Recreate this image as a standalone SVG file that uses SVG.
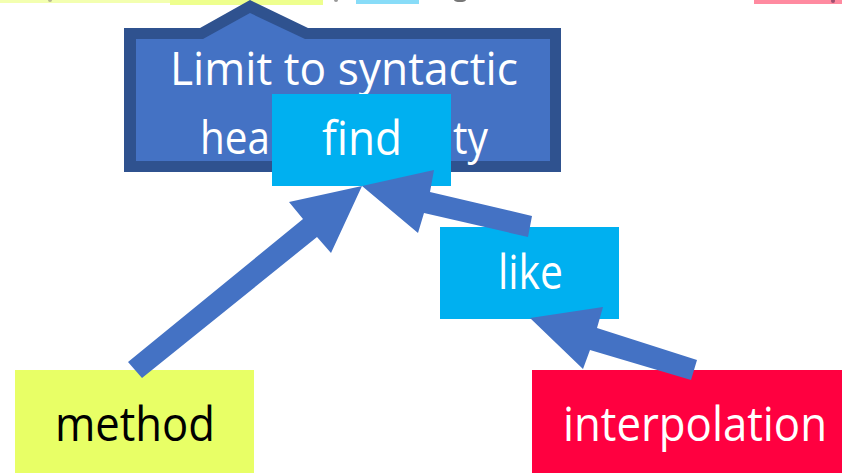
<svg xmlns="http://www.w3.org/2000/svg" width="842" height="473" viewBox="0 0 842 473">
<style>
.t{font-family:"Open Sans","Liberation Sans",sans-serif;font-size:48px;fill:#fff}
.tb{fill:#000}
.c{font-size:45px}
.arrow{fill:#4472C4}
.cyan{fill:#00B0F0}
</style>
<rect width="842" height="473" fill="#fff"/>
<g id="top-strip">
<rect x="0" y="0" width="170" height="3" fill="#F3FFB0"/>
<rect x="170" y="0" width="153" height="5" fill="#EEFF8E"/>
<rect x="356" y="0" width="63" height="4" fill="#88DCF8"/>
<rect x="754" y="0" width="88" height="4" fill="#FF8AA0"/>
<ellipse cx="50" cy="0" rx="2" ry="2" fill="#b8b890"/>
<ellipse cx="336" cy="0" rx="2" ry="2" fill="#999"/>
<ellipse cx="460" cy="0" rx="6" ry="2" fill="#777"/>
<ellipse cx="833" cy="1" rx="2" ry="2" fill="#a05070"/>
</g>
<g id="callout">
<polygon points="124,28 200,28 250,0 308,28 561,28 561,172 124,172" fill="#2F528F"/>
<polygon points="136,39 203,39 250,13 305,39 550,39 550,161 136,161" fill="#4472C4"/>
<text class="t c" x="170" y="85" textLength="348" lengthAdjust="spacingAndGlyphs">Limit to syntactic</text>
<text class="t c" x="200" y="154" textLength="70" lengthAdjust="spacingAndGlyphs">hea</text>
<text class="t c" x="453" y="154" textLength="35" lengthAdjust="spacingAndGlyphs">ty</text>
</g>
<g id="node-find">
<rect class="cyan" x="272" y="94" width="179" height="92"/>
<text class="t" x="322" y="155" textLength="80" lengthAdjust="spacingAndGlyphs">find</text>
</g>
<g id="node-like">
<rect class="cyan" x="440" y="227" width="179" height="92"/>
<text class="t" x="498" y="289" textLength="65" lengthAdjust="spacingAndGlyphs">like</text>
</g>
<g id="node-method">
<rect x="15" y="370" width="239" height="103" fill="#E8FF66"/>
<text class="t tb" x="55" y="441" textLength="160" lengthAdjust="spacingAndGlyphs">method</text>
</g>
<g id="node-interpolation">
<rect x="532" y="370" width="310" height="103" fill="#FF0040"/>
<text class="t" x="563" y="441" textLength="264" lengthAdjust="spacingAndGlyphs">interpolation</text>
</g>
<g id="connectors">
<polygon class="arrow" points="128,362 303,219 289,202 362,186 331,253 317,237 142,378"/>
<polygon class="arrow" points="362,186 434,170 430,192 532,216 528,237 424,213 418,233"/>
<polygon class="arrow" points="530,318 603,307 597,328 697,360 691,380 590,350 583,369"/>
</g>
</svg>
